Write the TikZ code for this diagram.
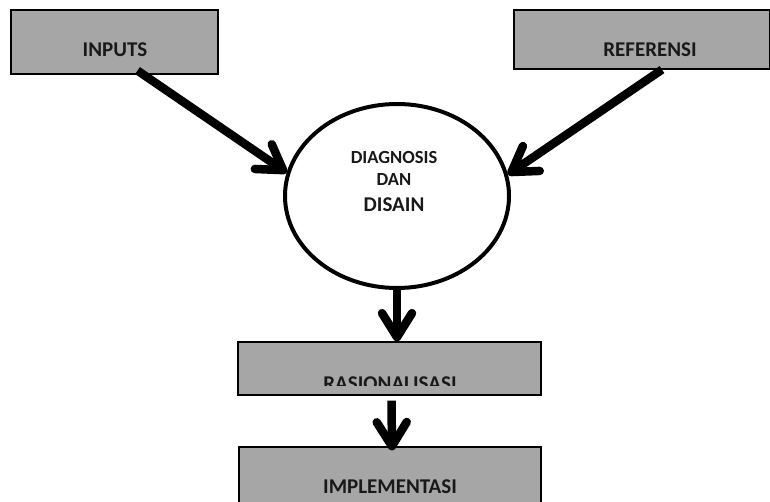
\documentclass[tikz,border=0pt]{standalone}
\usepackage{fontspec}
\setmainfont{Carlito}
\usetikzlibrary{shapes.geometric,arrows.meta}
\definecolor{boxgray}{RGB}{166,166,166}
\tikzset{
  box/.style={draw=black, line width=1.2pt, fill=boxgray, inner sep=0pt},
  lbl/.style={anchor=base, inner sep=0pt, text=black!90, font=\bfseries\fontsize{21}{25}\selectfont},
  lblsmall/.style={lbl, font=\bfseries\fontsize{18.5}{22}\selectfont},
  flow/.style={line width=8.5pt, -{Straight Barb[round,length=24pt,width=30pt]}},
}

\begin{document}
\begin{tikzpicture}[x=1pt,y=-1pt]
      \useasboundingbox (0,0) rectangle (770,502);

      \node[box, minimum width=207pt, minimum height=64pt] (inputs) at (114.5,42) {};
      \node[lbl] (inputstext) at (115,57) {INPUTS};
      \node[box, minimum width=256pt, minimum height=59pt] (ref) at (642,39.5) {};
      \node[lbl] (reftext) at (650,57) {REFERENSI};

      \node[draw, ellipse, line width=4pt, fill=white, minimum width=224pt, minimum height=184pt] (diag) at (397,196) {};
      \node[lblsmall] (diag1) at (394,164) {DIAGNOSIS};
      \node[lblsmall] (diag2) at (394,186) {DAN};
      \node[lbl] (diag3) at (394,212) {DISAIN};

      \node[box, minimum width=303pt, minimum height=53pt] (rasio) at (389.5,368.5) {};
      \begin{scope}
        \clip (238,342) rectangle (541,385);
        \node[lbl] (rasiotext) at (390,390) {RASIONALISASI};
      \end{scope}
      \node[box, minimum width=302pt, minimum height=80pt] (impl) at (390,487) {};
      \node[lbl] (impltext) at (390,493) {IMPLEMENTASI};

      \draw[flow] ([xshift=23pt,yshift=4pt]inputs.south) -- (diag.168);
      \draw[flow] ([xshift=20pt]ref.south) -- (diag.11);
      \draw[flow] (diag.south) -- (diag.south |- rasio.north);
      \draw[flow] ([xshift=2pt,yshift=-5pt]rasio.south) -- ([xshift=2pt,yshift=-4pt]impl.north);
\end{tikzpicture}
\end{document}
